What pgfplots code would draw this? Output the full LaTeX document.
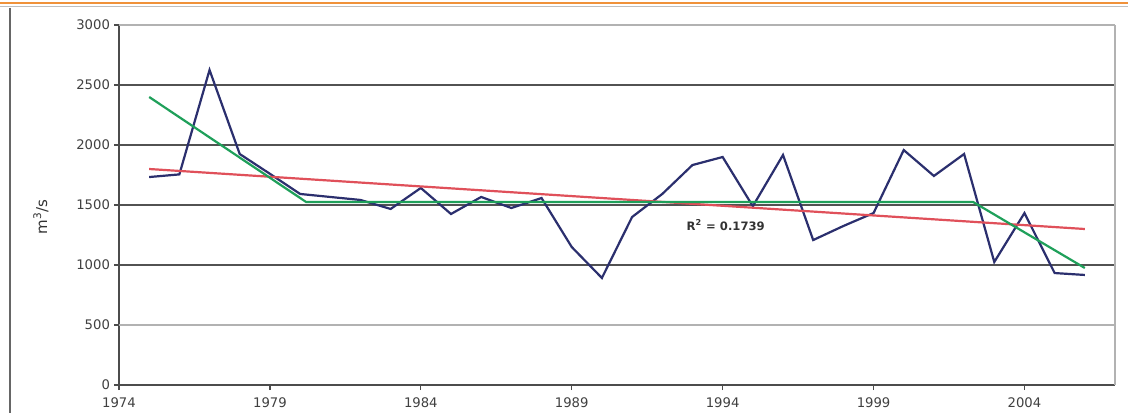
\documentclass[border=0pt]{standalone}
\usepackage{fontspec}
\setmainfont{DejaVu Sans}
\usepackage{pgfplots}
\pgfplotsset{compat=1.18}
\definecolor{flowblue}{HTML}{2B2F6E}
\definecolor{trendred}{HTML}{E0505A}
\definecolor{stepgreen}{HTML}{1FA05A}
\definecolor{toporange}{HTML}{F0923A}
\begin{document}
\begin{tikzpicture}[x=0.5pt,y=0.5pt]
\useasboundingbox (0,0) rectangle (1128,413);
\fill[white] (0,0) rectangle (1128,413);
\draw[toporange, line width=1.1pt] (0,410) -- (1128,410);
\draw[black!25, line width=0.6pt] (0,406.5) -- (1128,406.5);
\draw[black!60, line width=0.8pt] (10,405) -- (10,0);
\begin{axis}[
  at={(59.5pt,14pt)}, anchor=south west, scale only axis,
  width=498pt, height=180pt,
  xmin=1974, xmax=2007, ymin=0, ymax=3000,
  xtick={1974,1979,...,2004},
  ytick={0,1000,1500,2000,2500},
  extra y ticks={500,3000},
  extra y tick style={grid style={black!30, line width=0.8pt}},
  ymajorgrids,
  grid style={black!68, line width=0.9pt},
  axis x line*=bottom, axis y line*=left,
  axis line style={black!70, line width=0.9pt},
  tick style={black!70, line width=0.6pt},
  tick align=outside, major tick length=2.5pt,
  /pgf/number format/assume math mode=true,
  /pgf/number format/1000 sep={},
  ticklabel style={font=\fontsize{6.6}{7.5}\selectfont, text=black!75},
  xticklabel style={yshift=-0.5pt},
  yticklabel style={xshift=1.5pt},
  clip=false,
]
\draw[black!30, line width=0.8pt] (rel axis cs:1,0) -- (rel axis cs:1,1);
\addplot[flowblue, line width=1.1pt, mark=none] coordinates {
(1975,1733) (1976,1755) (1977,2625) (1978,1925) (1979,1760) (1980,1592)
(1981,1567) (1982,1542) (1983,1467) (1984,1642) (1985,1425) (1986,1567)
(1987,1475) (1988,1558) (1989,1150) (1990,892) (1991,1400) (1992,1592)
(1993,1833) (1994,1900) (1995,1490) (1996,1917) (1997,1208) (1998,1325)
(1999,1433) (2000,1958) (2001,1742) (2002,1925) (2003,1025) (2004,1433)
(2005,933) (2006,917)
};
\addplot[trendred, line width=1.1pt, mark=none] coordinates {(1975,1800) (2006,1300)};
\addplot[stepgreen, line width=1.1pt, mark=none] coordinates {(1975,2400) (1980.2,1525) (2002.3,1525) (2006,975)};
\node[font=\bfseries\fontsize{5.8}{7}\selectfont, text=black!80] at (axis cs:1994.1,1333) {R\textsuperscript{2} = 0.1739};
\node[font=\fontsize{7.5}{8}\selectfont, rotate=90, text=black!80] at ([xshift=-39pt, yshift=-6pt]axis description cs:0,0.5) {m\textsuperscript{3}/s};
\end{axis}
\end{tikzpicture}
\end{document}
